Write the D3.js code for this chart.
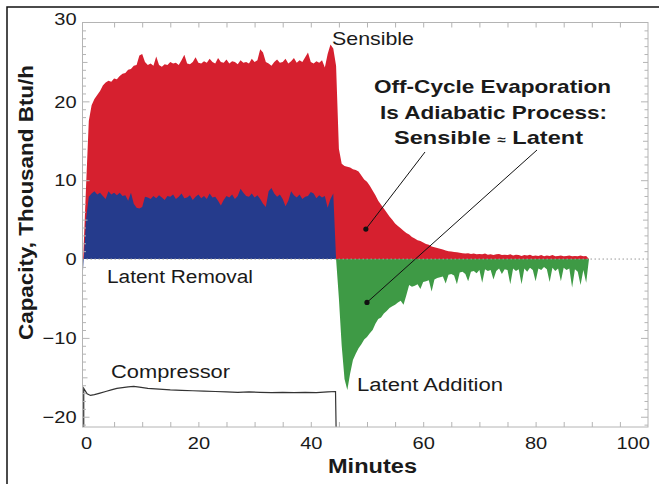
<!DOCTYPE html>
<html>
<head>
<meta charset="utf-8">
<script src="https://cdn.jsdelivr.net/npm/d3@7"></script>
<style>
  body { margin: 0; background: #fff; }
  svg { font-family: "Liberation Sans", Arial, Helvetica, sans-serif; }
</style>
</head>
<body>
<svg id="chart" width="659" height="484"></svg>
<script>
// sampled every half minute, starting at -0.5 min
const firstMinute = -0.5;
const minuteStep = 0.5;

// sensible capacity, thousand Btu/h
const sensible = [
  0,
  9, 17.5, 19.5, 20.3, 20.8, 21.3, 22.0, 22.4, 22.6, 22.5,
  22.9, 22.8, 23.2, 23.5, 23.6, 24.0, 24.1, 24.5, 24.6, 25.8,
  26.0, 25.0, 24.6, 24.8, 24.5, 25.7, 24.6, 24.4, 24.7, 24.6,
  25.0, 24.8, 24.9, 24.6, 25.2, 25.9, 24.8, 24.7, 25.0, 25.6,
  24.9, 24.8, 25.1, 24.9, 25.4, 25.0, 24.8, 25.5, 25.0, 24.9,
  25.3, 24.8, 25.1, 25.0, 24.7, 25.2, 24.9, 25.0, 24.8, 25.4,
  25.0, 25.2, 26.6, 26.2, 25.0, 24.8, 24.5, 25.0, 25.3, 24.9,
  25.0, 25.4, 24.8, 25.1, 25.5, 24.9, 25.2, 25.0, 25.6, 26.2,
  25.0, 24.8, 25.1, 24.9, 25.2, 24.3, 26.0, 27.2, 26.7, 24.5,
  14.0, 12.1, 11.8, 11.7, 11.6, 11.4, 11.3, 11.1, 10.6, 10.1,
  9.8, 9.3, 8.7, 8.1, 7.4, 6.9, 6.4, 5.9, 5.4, 5.0,
  4.5, 4.2, 3.9, 3.6, 3.3, 3.1, 2.8, 2.6, 2.4, 2.3,
  2.1, 1.9, 1.8, 1.6, 1.5, 1.4, 1.3, 1.2, 1.1, 1.0,
  0.95, 0.9, 0.85, 0.8, 0.75, 0.7, 0.75, 0.65, 0.7, 0.6,
  0.65, 0.6, 0.7, 0.55, 0.6, 0.5, 0.6, 0.65, 0.5, 0.55,
  0.5, 0.6, 0.45, 0.55, 0.5, 0.4, 0.5, 0.45, 0.55, 0.4,
  0.45, 0.4, 0.5, 0.35, 0.45, 0.4, 0.5, 0.35, 0.4, 0.45,
  0.35, 0.4, 0.45, 0.35, 0.4, 0.35, 0.45, 0.35, 0.4, 0
];

// latent capacity: removal while running, addition once the compressor stops
const latent = [
  -1.5,
  5.0, 7.9, 8.3, 8.6, 8.2, 8.4, 8.0, 7.6, 8.6, 8.2,
  8.4, 8.1, 8.4, 8.0, 8.1, 7.4, 8.4, 7.0, 6.5, 6.4,
  6.6, 7.9, 7.8, 7.6, 8.0, 7.7, 8.1, 7.8, 7.5, 8.0,
  7.9, 8.2, 7.6, 7.9, 8.3, 7.7, 7.8, 8.1, 7.5, 7.9,
  8.2, 7.7, 8.0, 7.6, 8.3, 7.8, 7.9, 7.4, 6.8, 7.5,
  8.0, 7.8, 8.2, 7.6, 8.0, 8.9, 8.4, 8.0, 7.9, 8.3,
  7.8, 8.1, 7.6, 7.0, 6.6, 8.6, 9.0, 8.3, 7.9, 8.2,
  7.6, 6.7, 7.4, 8.6, 8.1, 7.8, 8.2, 7.6, 7.9, 8.0,
  8.5, 8.3, 7.7, 8.1, 7.8, 8.0, 6.5, 7.6, 8.3, 0,
  -5.0, -11.0, -15.2, -16.6, -14.5, -12.8, -12.0, -11.3, -10.8, -10.2,
  -9.9, -9.4, -9.0, -8.2, -7.6, -7.4, -6.9, -6.6, -6.2, -6.0,
  -5.8, -5.5, -5.3, -5.8, -4.6, -3.3, -3.5, -3.4, -3.2, -3.8,
  -2.9, -2.8, -2.7, -4.1, -2.6, -2.4, -2.3, -2.2, -3.1, -2.0,
  -1.9, -2.1, -3.2, -1.7, -1.6, -1.9, -2.8, -1.6, -1.5, -1.8,
  -1.4, -3.0, -1.3, -1.5, -1.4, -2.6, -1.5, -1.2, -1.9, -1.3,
  -1.4, -3.2, -1.2, -1.5, -1.3, -3.2, -1.2, -1.6, -1.1, -1.4,
  -2.8, -1.2, -1.4, -1.0, -1.3, -2.9, -1.1, -1.5, -1.2, -2.8,
  -1.1, -1.4, -1.2, -3.6, -1.3, -1.6, -3.3, -1.4, -3.0, 0
];
const compressorOff = 44.5;

// compressor power trace, drawn on the capacity scale
const compressorMinutes = [-0.4, -0.4, 0.2, 0.8, 1.5, 2.5, 3.5, 4.5, 5.5, 6.5,
  7.5, 8.5, 9.5, 11, 13, 15, 17, 19, 21, 23,
  25, 27, 29, 31, 33, 35, 37, 39, 41, 43, 44.4, 44.5];
const compressorValues = [-21.3, -16.4, -17.1, -17.3, -17.2, -17.0, -16.8, -16.6, -16.4, -16.3,
  -16.2, -16.15, -16.25, -16.4, -16.5, -16.6, -16.65, -16.7, -16.75, -16.8,
  -16.85, -16.9, -16.85, -16.9, -16.95, -16.9, -16.95, -16.9, -16.95, -16.85, -16.8, -21.3];

const xTickLabels = [0, 20, 40, 60, 80, 100];
const yTickLabels = [-20, -10, 0, 10, 20, 30];

const plotLeft = 82.5, plotRight = 648, plotTop = 22.5, plotBottom = 427;
const tickColor = "#b4b4b4", textColor = "#1a1a1a";

const x = d3.scaleLinear().domain([-0.62, 100]).range([plotLeft, plotRight]);
const y = d3.scaleLinear().domain([-21.3, 30]).range([plotBottom, plotTop]);

const sens = sensible.map((v, i) => ({t: firstMinute + i * minuteStep, v: v}));
const lat = latent.map((v, i) => ({t: firstMinute + i * minuteStep, v: v}));
const comp = compressorMinutes.map((t, i) => ({t: t, v: compressorValues[i]}));

const svg = d3.select("#chart");

// figure border (top and left only)
svg.append("path").attr("d", "M7,484V7H659").attr("fill", "none")
  .attr("stroke", "#111").attr("stroke-width", 1.5);

svg.append("clipPath").attr("id", "plotClip")
  .append("rect").attr("x", plotLeft).attr("y", plotTop)
  .attr("width", plotRight - plotLeft).attr("height", plotBottom - plotTop);

const plot = svg.append("g").attr("clip-path", "url(#plotClip)");

plot.append("path").datum(sens)
  .attr("fill", "#d6202f")
  .attr("d", d3.area().x(d => x(d.t)).y0(y(0)).y1(d => y(d.v)));

plot.append("path").datum(lat)
  .attr("fill", "#253b8c")
  .attr("d", d3.area().defined(d => d.t <= compressorOff)
    .x(d => x(d.t)).y0(y(0)).y1(d => y(d.v)));

plot.append("path").datum(lat)
  .attr("fill", "#3e9a45")
  .attr("d", d3.area().defined(d => d.t >= compressorOff)
    .x(d => x(d.t)).y0(y(0)).y1(d => y(d.v)));

plot.append("line")
  .attr("x1", plotLeft).attr("x2", plotRight).attr("y1", y(0)).attr("y2", y(0))
  .attr("stroke", "#999").attr("stroke-width", 1).attr("stroke-dasharray", "1.5,2.5");

plot.append("path").datum(comp)
  .attr("fill", "none").attr("stroke", "#333").attr("stroke-width", 1.2)
  .attr("d", d3.line().x(d => x(d.t)).y(d => y(d.v)));

// frame with inward ticks
function tickAxis(axis, tr) {
  const g = svg.append("g").attr("transform", tr).call(axis);
  g.select(".domain").remove();
  g.selectAll("line").attr("stroke", tickColor);
  return g;
}
const minuteTicks = d3.range(5, 100, 5);
tickAxis(d3.axisBottom(x).tickValues(minuteTicks).tickSize(-5).tickFormat(""), `translate(0,${plotBottom})`);
tickAxis(d3.axisTop(x).tickValues(minuteTicks).tickSize(-5).tickFormat(""), `translate(0,${plotTop})`);

const unitTicks = d3.range(-21, 30).filter(v => v % 5 !== 0);
const fiveTicks = [-15, -5, 5, 15, 25];
const tenTicks = [-20, -10, 10, 20];
[[unitTicks, 3.5], [fiveTicks, 5], [tenTicks, 7]].forEach(([vals, len]) => {
  tickAxis(d3.axisLeft(y).tickValues(vals).tickSize(-len).tickFormat(""), `translate(${plotLeft},0)`);
  tickAxis(d3.axisRight(y).tickValues(vals).tickSize(-len).tickFormat(""), `translate(${plotRight},0)`);
});

svg.append("rect").attr("x", plotLeft).attr("y", plotTop)
  .attr("width", plotRight - plotLeft).attr("height", plotBottom - plotTop)
  .attr("fill", "none").attr("stroke", tickColor).attr("stroke-width", 1);

// tick labels
const xLab = svg.append("g").attr("transform", `translate(0,${plotBottom})`)
  .call(d3.axisBottom(x).tickValues(xTickLabels).tickSize(0).tickPadding(10));
xLab.select(".domain").remove();
xLab.selectAll("text")
  .attr("font-size", 17).attr("fill", textColor)
  .attr("dx", d => d === 100 ? -13 : 0)
  .attr("transform", "scale(1.18,1)");
xLab.attr("font-family", null);

const yLab = svg.append("g").attr("transform", `translate(${plotLeft},0)`)
  .call(d3.axisLeft(y).tickValues(yTickLabels).tickSize(0).tickPadding(5));
yLab.select(".domain").remove();
yLab.selectAll("text")
  .attr("font-size", 17).attr("fill", textColor)
  .attr("dy", d => d === 30 ? "0.1em" : "0.34em")
  .attr("transform", "scale(1.18,1)");
yLab.attr("font-family", null);

// axis titles
svg.append("text").text("Minutes")
  .attr("x", 372.5).attr("y", 473).attr("text-anchor", "middle")
  .attr("font-size", 20).attr("font-weight", "bold").attr("fill", textColor)
  .attr("textLength", 89).attr("lengthAdjust", "spacingAndGlyphs");

svg.append("text").text("Capacity, Thousand Btu/h")
  .attr("transform", "translate(33,202.5) rotate(-90)")
  .attr("text-anchor", "middle")
  .attr("font-size", 20).attr("font-weight", "bold").attr("fill", textColor)
  .attr("textLength", 275).attr("lengthAdjust", "spacingAndGlyphs");

// series labels
const labels = [
  {text: "Sensible", x: 332, y: 45, size: 18.5, w: 82},
  {text: "Latent Removal", x: 107, y: 283, size: 18, w: 146},
  {text: "Compressor", x: 111, y: 378, size: 18, w: 119},
  {text: "Latent Addition", x: 357, y: 391, size: 18, w: 146}
];
labels.forEach(l => {
  svg.append("text").text(l.text)
    .attr("x", l.x).attr("y", l.y)
    .attr("font-size", l.size).attr("fill", textColor)
    .attr("textLength", l.w).attr("lengthAdjust", "spacingAndGlyphs");
});

// annotation
const note = [
  {parts: ["Off-Cycle Evaporation"], x: 374, y: 93, w: 237},
  {parts: ["Is Adiabatic Process:"], x: 380, y: 119, w: 227},
  {parts: ["Sensible ", "\u2248", " Latent"], x: 394, y: 144, w: 189}
];
note.forEach(l => {
  const t = svg.append("text")
    .attr("x", l.x).attr("y", l.y)
    .attr("font-size", 18.5).attr("font-weight", "bold").attr("fill", textColor)
    .attr("textLength", l.w).attr("lengthAdjust", "spacingAndGlyphs");
  l.parts.forEach(p => {
    t.append("tspan").text(p).attr("font-size", p === "\u2248" ? 12 : null);
  });
});

// leaders from the note into each off-cycle area
const leaders = [
  {from: [425, 152], t: 49.8, v: 3.8},
  {from: [537, 150], t: 50.0, v: -5.5}
];
leaders.forEach(l => {
  svg.append("line")
    .attr("x1", l.from[0]).attr("y1", l.from[1])
    .attr("x2", x(l.t)).attr("y2", y(l.v))
    .attr("stroke", "#111").attr("stroke-width", 1);
  svg.append("circle").attr("cx", x(l.t)).attr("cy", y(l.v)).attr("r", 2.6).attr("fill", "#111");
});
</script>
</body>
</html>
